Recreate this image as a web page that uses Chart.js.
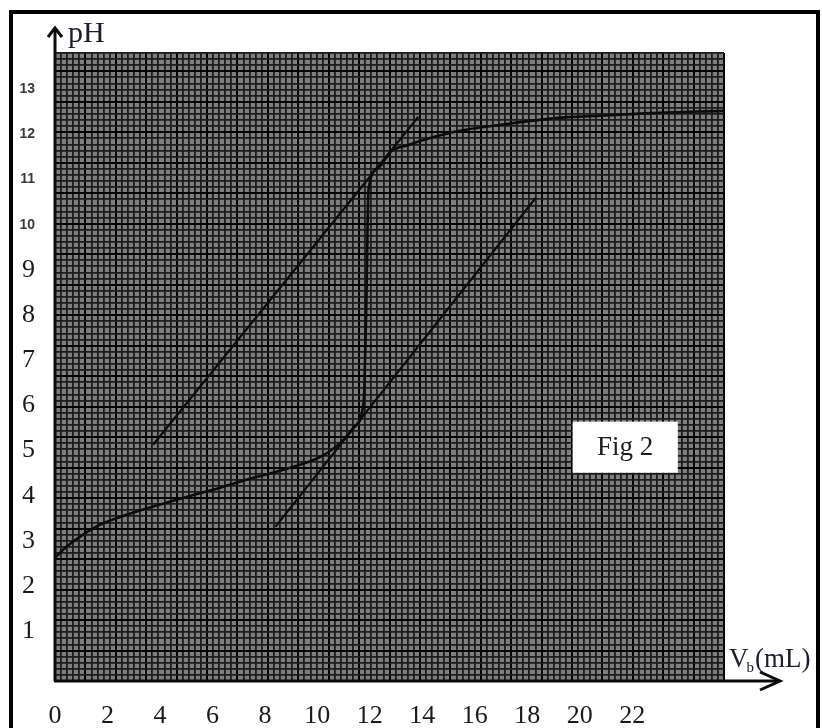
<!DOCTYPE html>
<html>
<head>
<meta charset="utf-8">
<script src="https://cdn.jsdelivr.net/npm/chart.js@4.4.1/dist/chart.umd.min.js"></script>
<style>
  html, body { margin: 0; padding: 0; background: #fff; }
</style>
</head>
<body>
<canvas id="titration" width="822" height="728"></canvas>
<script>
// ---------------- data ----------------
// titration curve : V_b (mL) -> pH
let volume = [0, 0.46, 1.07, 1.72, 2.48, 3.74, 5.04, 6.30, 7.56, 8.85, 10.11, 10.88, 11.37, 11.72,
  11.79, 11.87, 11.95, 12.33, 12.79, 13.44, 14.43, 15.34, 16.98, 19.54, 20.8, 22.7, 25.5];
let ph = [2.63, 2.88, 3.14, 3.36, 3.53, 3.76, 3.98, 4.18, 4.40, 4.60, 4.86, 5.17, 5.50, 5.90,
  6.34, 8.34, 10.77, 11.26, 11.61, 11.76, 11.94, 12.07, 12.21, 12.38, 12.41, 12.47, 12.52];

// the two parallel tangents (tangent method)
let tangentUpV = [3.74, 13.85];
let tangentUpPH = [5.13, 12.39];
let tangentLowV = [8.40, 18.32];
let tangentLowPH = [3.31, 10.59];

// tick labels
let xTicks = [0, 2, 4, 6, 8, 10, 12, 14, 16, 18, 20, 22];
let yTicks = [1, 2, 3, 4, 5, 6, 7, 8, 9, 10, 11, 12, 13];

// graph paper : minor squares across / down, a heavier line every 5
let paperCols = 110;
let paperRows = 103;
let paperMajor = 5;

// -------------------------------------------------------
const toPoints = (xs, ys) => xs.map((v, i) => ({ x: v, y: ys[i] }));

const serif = "'Liberation Serif', 'DejaVu Serif', serif";
const sans = "'Liberation Sans', Arial, sans-serif";

// paper, frame, arrows, labels
const decor = {
  id: "decor",
  beforeDraw(chart) {
    const { ctx, chartArea: a } = chart;
    ctx.save();
    ctx.fillStyle = "#ffffff";
    ctx.fillRect(0, 0, chart.width, chart.height);
    ctx.fillStyle = "#7e7e7e";
    ctx.fillRect(a.left, a.top, a.right - a.left, a.bottom - a.top);
    ctx.restore();
  },
  afterDraw(chart) {
    const { ctx, chartArea: a, scales } = chart;
    ctx.save();

    // outer frame
    ctx.strokeStyle = "#000";
    ctx.lineWidth = 4;
    ctx.strokeRect(11, 12, 807, 740);

    // axes + arrows
    ctx.strokeStyle = "#0a0a0a";
    ctx.lineWidth = 3;
    ctx.beginPath();
    ctx.moveTo(a.left, a.bottom);
    ctx.lineTo(a.left, a.top - 25);
    ctx.moveTo(a.left - 1, a.bottom);
    ctx.lineTo(a.right + 56, a.bottom);
    ctx.stroke();

    ctx.beginPath();
    ctx.moveTo(a.left - 7, a.top - 16);
    ctx.lineTo(a.left, a.top - 25);
    ctx.lineTo(a.left + 7, a.top - 16);
    ctx.moveTo(a.right + 36, a.bottom - 9);
    ctx.lineTo(a.right + 56, a.bottom);
    ctx.lineTo(a.right + 36, a.bottom + 9);
    ctx.stroke();

    // axis names
    ctx.fillStyle = "#1c1c2a";
    ctx.textBaseline = "alphabetic";
    ctx.textAlign = "left";
    ctx.font = "30px " + serif;
    ctx.fillText("pH", a.left + 13, a.top - 11);

    ctx.font = "27px " + serif;
    let vx = a.right + 5;
    let vy = a.bottom - 14;
    ctx.fillText("V", vx, vy);
    let w = ctx.measureText("V").width;
    ctx.font = "15px " + serif;
    ctx.fillText("b", vx + w - 2, vy + 5);
    let wb = ctx.measureText("b").width;
    ctx.font = "27px " + serif;
    ctx.fillText("(mL)", vx + w + wb - 1, vy);

    // "Fig 2" label box
    const x = scales.x, y = scales.y;
    const bx0 = x.getPixelForValue(19.73), bx1 = x.getPixelForValue(23.74);
    const by0 = y.getPixelForValue(5.64), by1 = y.getPixelForValue(4.51);
    ctx.fillStyle = "#ffffff";
    ctx.fillRect(bx0, by0, bx1 - bx0, by1 - by0);
    ctx.fillStyle = "#1e1e1e";
    ctx.font = "27px " + serif;
    ctx.textAlign = "center";
    ctx.textBaseline = "middle";
    ctx.fillText("Fig 2", (bx0 + bx1) / 2, (by0 + by1) / 2 + 1);

    ctx.restore();
  },
};

const paperColor = (c) => (c.tick.value % paperMajor === 0 ? "#000000" : "#1c1c1c");
const paperWidth = (c) => (c.tick.value % paperMajor === 0 ? 2.0 : 1.8);

const ctx = document.getElementById("titration");

new Chart(ctx, {
  type: "line",
  data: {
    datasets: [
      {
        label: "pH",
        data: toPoints(volume, ph),
        borderColor: "#0b0b0b",
        borderWidth: 2.6,
        pointRadius: 0,
        cubicInterpolationMode: "monotone",
      },
      {
        label: "tangent 1",
        data: toPoints(tangentUpV, tangentUpPH),
        borderColor: "#0b0b0b",
        borderWidth: 2.2,
        pointRadius: 0,
      },
      {
        label: "tangent 2",
        data: toPoints(tangentLowV, tangentLowPH),
        borderColor: "#0b0b0b",
        borderWidth: 2.2,
        pointRadius: 0,
      },
    ],
  },
  options: {
    responsive: false,
    animation: false,
    layout: { padding: 0 },
    plugins: {
      legend: { display: false },
      tooltip: { enabled: false },
    },
    scales: {
      x: {
        type: "linear",
        position: "bottom",
        min: 0,
        max: 25.5,
        afterBuildTicks: (s) => { s.ticks = xTicks.map((v) => ({ value: v })); },
        afterFit: (s) => { s.height = 47; },
        grid: { display: false },
        border: { display: false },
        ticks: {
          autoSkip: false,
          maxRotation: 0,
          padding: 12,
          color: "#1a1a1a",
          font: { family: serif, size: 26 },
        },
      },
      y: {
        type: "linear",
        position: "left",
        min: -0.1,
        max: 13.8,
        afterBuildTicks: (s) => { s.ticks = yTicks.map((v) => ({ value: v })); },
        afterFit: (s) => { s.width = 55; },
        grid: { display: false },
        border: { display: false },
        ticks: {
          padding: 12,
          color: (c) => (c.tick && c.tick.value >= 10 ? "#3a3a3a" : "#1a1a1a"),
          font: (c) =>
            c.tick && c.tick.value >= 10
              ? { family: sans, size: 14, weight: "bold" }
              : { family: serif, size: 26 },
        },
      },
      // graph paper lines
      gx: {
        type: "linear",
        position: "top",
        min: 0,
        max: paperCols,
        afterFit: (s) => { s.height = 53; },
        border: { display: false },
        ticks: { display: false, stepSize: 1 },
        grid: { drawTicks: false, color: paperColor, lineWidth: paperWidth },
      },
      gy: {
        type: "linear",
        position: "right",
        min: 0,
        max: paperRows,
        afterFit: (s) => { s.width = 98; },
        border: { display: false },
        ticks: { display: false, stepSize: 1 },
        grid: { drawTicks: false, color: paperColor, lineWidth: paperWidth },
      },
    },
  },
  plugins: [decor],
});
</script>
</body>
</html>
